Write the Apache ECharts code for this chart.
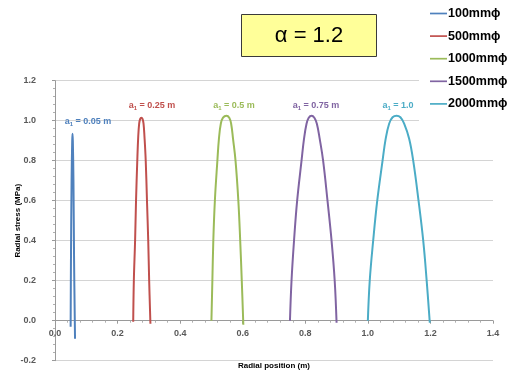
<!DOCTYPE html>
<html>
<head>
<meta charset="utf-8">
<script src="https://cdn.jsdelivr.net/npm/echarts@6/dist/echarts.min.js"></script>
<style>
  html, body { margin: 0; padding: 0; background: #fff; }
  #chart { width: 509px; height: 371px; }
</style>
</head>
<body>
<div id="chart"></div>
<script>
// Radial stress profiles across the annulus for each borehole diameter (alpha = 1.2)
const seriesNames = ['100mmϕ', '500mmϕ', '1000mmϕ', '1500mmϕ', '2000mmϕ'];
const seriesColors = ['#4F81BD', '#C0504D', '#9BBB59', '#8064A2', '#4BACC6'];

// [radial position (m), radial stress (MPa)]
const stress100 = [[0.050, -0.03], [0.051, 0.30], [0.053, 0.70], [0.055, 0.90], [0.056, 0.935], [0.057, 0.90], [0.059, 0.70], [0.061, 0.30], [0.064, -0.09]];
const stress500 = [[0.250, -0.005], [0.252, 0.20], [0.256, 0.40], [0.259, 0.60], [0.263, 0.80], [0.266, 0.92], [0.269, 0.985], [0.272, 1.008], [0.276, 1.015], [0.280, 1.008], [0.283, 0.985], [0.286, 0.92], [0.290, 0.80], [0.294, 0.60], [0.298, 0.40], [0.301, 0.20], [0.305, -0.015]];
const stress1000 = [[0.500, 0.0], [0.503, 0.20], [0.506, 0.40], [0.511, 0.60], [0.519, 0.80], [0.524, 0.91], [0.530, 0.985], [0.537, 1.015], [0.548, 1.025], [0.557, 1.015], [0.563, 0.985], [0.569, 0.91], [0.577, 0.80], [0.586, 0.60], [0.592, 0.40], [0.597, 0.20], [0.602, -0.02]];
const stress1500 = [[0.751, 0.0], [0.756, 0.20], [0.764, 0.40], [0.774, 0.60], [0.788, 0.80], [0.796, 0.91], [0.804, 0.985], [0.811, 1.015], [0.820, 1.025], [0.829, 1.015], [0.837, 0.985], [0.846, 0.91], [0.857, 0.80], [0.871, 0.60], [0.884, 0.40], [0.894, 0.20], [0.900, -0.01]];
const stress2000 = [[1.000, 0.0], [1.006, 0.20], [1.017, 0.40], [1.030, 0.60], [1.047, 0.80], [1.057, 0.91], [1.068, 0.985], [1.079, 1.017], [1.092, 1.025], [1.104, 1.017], [1.116, 0.985], [1.132, 0.91], [1.145, 0.80], [1.162, 0.60], [1.177, 0.40], [1.188, 0.20], [1.198, -0.01]];
const seriesData = [stress100, stress500, stress1000, stress1500, stress2000];

// Inner-radius annotations
const innerRadiusLabels = ['0.05 m', '0.25 m', '0.5 m', '0.75 m', '1.0'];

const alphaText = 'α = 1.2';
const xAxisTitle = 'Radial position (m)';
const yAxisTitle = 'Radial stress (MPa)';

const chart = echarts.init(document.getElementById('chart'), null, { renderer: 'canvas' });

const tickFont = { fontFamily: 'Liberation Sans', fontWeight: 'bold', fontSize: 9, color: '#595959' };

const labelPos = [[88, 122], [152, 106], [234, 106], [316, 106], [398, 106]];

const graphics = [
  {
    type: 'rect',
    shape: { x: 241.5, y: 14.5, width: 135, height: 42 },
    style: { fill: '#FFFF99', stroke: '#3a3a3a', lineWidth: 1 },
    z: 10
  },
  {
    type: 'text',
    x: 309, y: 36,
    style: { text: alphaText, fontFamily: 'Liberation Sans', fontSize: 22, fill: '#000', align: 'center', verticalAlign: 'middle' },
    z: 11
  }
];
innerRadiusLabels.forEach((txt, i) => {
  graphics.push({
    type: 'text',
    x: labelPos[i][0], y: labelPos[i][1],
    style: {
      text: '{a|a}{s|1}{t| = ' + txt + '}',
      align: 'center', verticalAlign: 'middle',
      rich: {
        a: { fontFamily: 'Liberation Sans', fontWeight: 'bold', fontSize: 9, fill: seriesColors[i] },
        s: { fontFamily: 'Liberation Sans', fontWeight: 'bold', fontSize: 6, fill: seriesColors[i], verticalAlign: 'bottom', padding: [4, 0, 0, 0] },
        t: { fontFamily: 'Liberation Sans', fontWeight: 'bold', fontSize: 9, fill: seriesColors[i] }
      }
    },
    z: 5
  });
});

chart.setOption({
  animation: false,
  backgroundColor: '#fff',
  grid: { left: 55, right: 16, top: 80.7, bottom: 10.3, containLabel: false, outerBoundsMode: 'none' },
  legend: {
    orient: 'vertical',
    left: 419, top: 0,
    padding: [7, 0, 20, 11],
    itemGap: 9.6,
    itemWidth: 17, itemHeight: 14,
    backgroundColor: '#fff',
    textStyle: { fontFamily: 'Liberation Sans', fontWeight: 'bold', fontSize: 12.5, color: '#000', padding: [0, 0, 0, -4] },
    data: seriesNames.map(n => ({ name: n, icon: 'path://M0,6.5 L20,6.5 L20,8.5 L0,8.5 Z' })),
    z: 8
  },
  xAxis: {
    type: 'value', min: 0, max: 1.4, interval: 0.2,
    // axis drawn along the zero stress line, 40px above the plot bottom
    offset: -40,
    name: xAxisTitle, nameLocation: 'middle', nameGap: 41, nameMoveOverlap: false,
    nameTextStyle: { fontFamily: 'Liberation Sans', fontWeight: 'bold', fontSize: 8, color: '#000' },
    axisLine: { onZero: false, lineStyle: { color: '#9a9a9a', width: 1 } },
    axisTick: { show: true, length: 3, inside: false, lineStyle: { color: '#9a9a9a' } },
    minorTick: { show: true, splitNumber: 5, length: 2, lineStyle: { color: '#b0b0b0' } },
    axisLabel: Object.assign({ margin: 8, formatter: v => v.toFixed(1) }, tickFont),
    splitLine: { show: false }
  },
  yAxis: {
    type: 'value', min: -0.2, max: 1.2, interval: 0.2,
    name: yAxisTitle, nameLocation: 'middle', nameGap: 33, nameRotate: 90, nameMoveOverlap: false,
    nameTextStyle: { fontFamily: 'Liberation Sans', fontWeight: 'bold', fontSize: 8, color: '#000' },
    axisLine: { show: true, lineStyle: { color: '#9a9a9a', width: 1 } },
    axisTick: { show: true, length: 3, lineStyle: { color: '#9a9a9a' } },
    minorTick: { show: true, splitNumber: 5, length: 2, lineStyle: { color: '#b0b0b0' } },
    axisLabel: Object.assign({ margin: 19, formatter: v => v.toFixed(1) }, tickFont),
    splitLine: { show: true, lineStyle: { color: '#d4d4d4', width: 1 } }
  },
  series: seriesNames.map((n, i) => ({
    name: n,
    type: 'line',
    data: seriesData[i],
    symbol: 'none',
    smooth: 0.4,
    lineStyle: { color: seriesColors[i], width: 2 },
    itemStyle: { color: seriesColors[i] },
    z: 3
  })),
  graphic: graphics
});
</script>
</body>
</html>
